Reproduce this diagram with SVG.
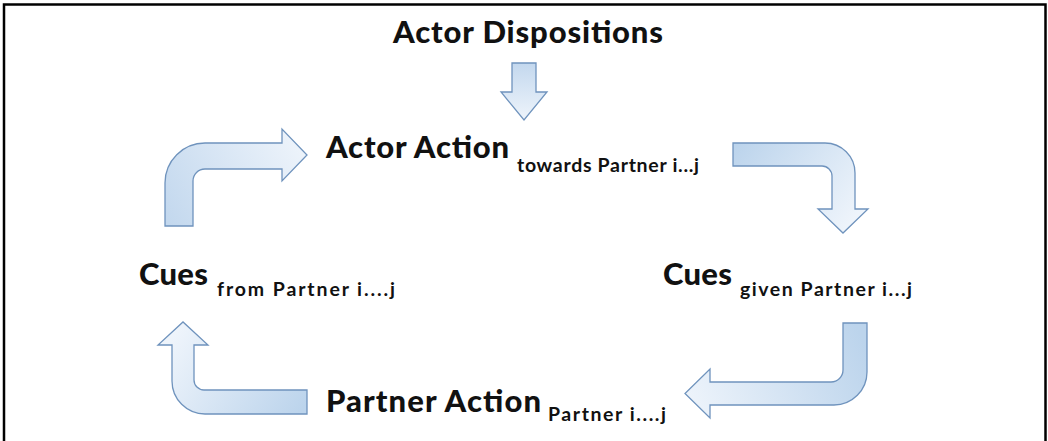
<svg xmlns="http://www.w3.org/2000/svg" width="1048" height="441" viewBox="0 0 1048 441">
<style>
.arrow{stroke:#6f93bd;stroke-width:1.3;stroke-linejoin:miter}
.main{font-family:Lato,"Liberation Sans",sans-serif;font-weight:900;font-size:31px;fill:#111}
.sub{font-family:Lato,"Liberation Sans",sans-serif;font-weight:bold;font-size:19.5px;fill:#111}
</style>
<defs>
<linearGradient id="gTop" gradientUnits="userSpaceOnUse" x1="0" y1="63" x2="0" y2="120"><stop offset="0" stop-color="#c3d8ee"/><stop offset="1" stop-color="#eef4fb"/></linearGradient>
<linearGradient id="gTL" gradientUnits="userSpaceOnUse" x1="170" y1="226" x2="307" y2="150"><stop offset="0" stop-color="#c3d8ee"/><stop offset="1" stop-color="#eef4fb"/></linearGradient>
<linearGradient id="gTR" gradientUnits="userSpaceOnUse" x1="733" y1="150" x2="843" y2="233"><stop offset="0" stop-color="#bcd4ec"/><stop offset="1" stop-color="#eef4fb"/></linearGradient>
<linearGradient id="gBR" gradientUnits="userSpaceOnUse" x1="855" y1="323" x2="685" y2="400"><stop offset="0" stop-color="#bcd4ec"/><stop offset="1" stop-color="#eef4fb"/></linearGradient>
<linearGradient id="gBL" gradientUnits="userSpaceOnUse" x1="307" y1="402" x2="183" y2="322"><stop offset="0" stop-color="#bcd4ec"/><stop offset="1" stop-color="#eef4fb"/></linearGradient>
</defs>
<rect x="4" y="4.5" width="1041.5" height="450" fill="none" stroke="#000" stroke-width="2.5"/>
<g id="connectors">
<path id="arrow-top" class="arrow" fill="url(#gTop)" d="M512,63 L536,63 L536,92 L547,92 L524,120 L501,92 L512,92 Z"/>
<path id="arrow-topleft" class="arrow" fill="url(#gTL)" d="M165,226 L165,183 A40,40 0 0 1 205,143 L282,143 L282,129 L307,155 L282,181 L282,169 L205,169 A12,12 0 0 0 193,181 L193,226 Z"/>
<path id="arrow-topright" class="arrow" fill="url(#gTR)" d="M733,143 L825,143 A30,30 0 0 1 855,173 L855,209 L868,209 L843,233 L818,209 L832,209 L832,176 A10,10 0 0 0 822,166 L733,166 Z"/>
<path id="arrow-bottomright" class="arrow" fill="url(#gBR)" d="M843,323 L867,323 L867,372 A33,33 0 0 1 834,405 L710,405 L710,418 L685,393.5 L710,369 L710,382 L831,382 A12,12 0 0 0 843,370 Z"/>
<path id="arrow-bottomleft" class="arrow" fill="url(#gBL)" d="M307,390 L307,414 L205,414 A33,33 0 0 1 172,381 L172,345 L158,345 L183,322 L208,345 L194,345 L194,380 A10,10 0 0 0 204,390 Z"/>
</g>
<g id="node-dispositions"><text class="main" x="393" y="43" textLength="270">Actor Dispositions</text></g>
<g id="node-actor-action"><text class="main" x="326" y="158" textLength="183">Actor Action</text><text class="sub" x="517" y="172" textLength="182">towards Partner i...j</text></g>
<g id="node-cues-given"><text class="main" x="663" y="285" textLength="69">Cues</text><text class="sub" x="740" y="296" textLength="172">given Partner i...j</text></g>
<g id="node-partner-action"><text class="main" x="326" y="412" textLength="215">Partner Action</text><text class="sub" x="548" y="421" textLength="118">Partner i....j</text></g>
<g id="node-cues-from"><text class="main" x="139" y="285" textLength="69">Cues</text><text class="sub" x="217" y="296" textLength="178">from Partner i....j</text></g>
</svg>
